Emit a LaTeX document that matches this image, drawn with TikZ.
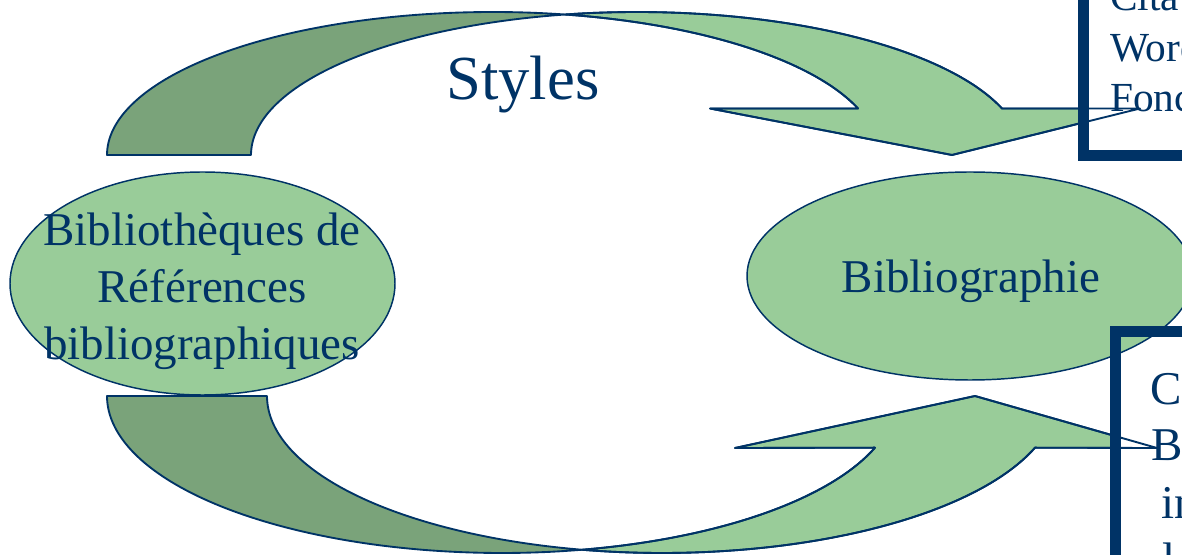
\documentclass[tikz,border=0pt]{standalone}
\usepackage{fontspec}
\setmainfont{Liberation Serif}
\usetikzlibrary{shapes.geometric}
\definecolor{navy}{RGB}{0,51,102}
\definecolor{lgreen}{RGB}{153,204,153}
\definecolor{dgreen}{RGB}{122,163,122}
\newcommand\TopDarkBand[1]{\path[#1] (107,-155)
  -- plot[domain=180:79.25,samples=90] ({493+386*cos(\x)},{-155+143*sin(\x)})
  -- plot[domain=100.75:180,samples=90] ({637+386*cos(\x)},{-155+143*sin(\x)}) -- cycle;}
\newcommand\TopLightBand[1]{\path[#1] (565,-14.5)
  -- plot[domain=100.75:18.98,samples=90] ({637+386*cos(\x)},{-155+143*sin(\x)})
  -- (1140,-108.5) -- (952,-155) -- (710,-108.5)
  -- plot[domain=18.98:79.25,samples=90] ({493+386*cos(\x)},{-155+143*sin(\x)}) -- cycle;}
\newcommand\BotDarkBand[1]{\path[#1] (107,-396)
  -- plot[domain=180:281.68,samples=90] ({502+395*cos(\x)},{-396+157*sin(\x)})
  -- plot[domain=258.32:180,samples=90] ({662+395*cos(\x)},{-396+157*sin(\x)}) -- cycle;}
\newcommand\BotLightBand[1]{\path[#1] (582,-549.7)
  -- plot[domain=258.32:340.78,samples=90] ({662+395*cos(\x)},{-396+157*sin(\x)})
  -- (1157,-448) -- (975,-396) -- (735,-448)
  -- plot[domain=340.78:281.68,samples=90] ({502+395*cos(\x)},{-396+157*sin(\x)}) -- cycle;}
\begin{document}
\begin{tikzpicture}[x=0.75pt,y=0.75pt,
  band/.style={draw=navy, line width=1.4pt, line join=round},
  oval/.style={ellipse, draw=navy, fill=lgreen, line width=1.1pt, inner sep=0pt},
  txt/.style={text=navy, inner sep=0pt},
  frame/.style={draw=navy, line width=8.25pt},
  bigfont/.style={font=\fontsize{35.25}{42.75}\selectfont},
  boxfont/.style={font=\fontsize{31}{37.5}\selectfont}]
\useasboundingbox (0,0) rectangle (1182,-555);
\clip (0,0) rectangle (1182,-555);
% curved arrows
\TopDarkBand{fill=dgreen, band}
\TopLightBand{fill=lgreen, band}
\BotDarkBand{fill=dgreen, band}
\BotLightBand{fill=lgreen, band}
% white interiors of the text boxes
\fill[white] (1083,-155.5) rectangle (1300,60);
\fill[white] (1115.5,-331.5) rectangle (1300,-650);
% arrow outlines over the boxes
\TopLightBand{band}
\BotLightBand{band}
% ellipses
\node[oval, minimum width=288.75pt, minimum height=167.25pt] (lib) at (202.5,-283.5) {};
\node[oval, minimum width=334.5pt, minimum height=156pt] (bib) at (970,-276) {};
% box frames
\draw[frame] (1083,-155.5) rectangle (1300,60);
\draw[frame] (1115.5,-331.5) rectangle (1300,-650);
% texts
\node[txt, bigfont, align=center] (libtxt) at (202,-291) {Bibliothèques de\\Références\\bibliographiques};
\node[txt, font=\fontsize{47}{56}\selectfont, anchor=base] (styles) at (523,-100) {Styles};
\node[txt, bigfont, anchor=base] (bibtxt) at (971,-293) {Bibliographie};
\node[txt, boxfont, anchor=base west] (t1) at (1110,-11) {Cita};
\node[txt, boxfont, anchor=base west] (t2) at (1110,-62) {Word};
\node[txt, boxfont, anchor=base west] (t3) at (1110,-112) {Fonc};
\node[txt, bigfont, anchor=base west] (b1) at (1150,-405) {C};
\node[txt, bigfont, anchor=base west] (b2) at (1151,-461) {B};
\node[txt, bigfont, anchor=base west] (b3) at (1161,-519) {in};
\node[txt, bigfont, anchor=base west] (b4) at (1162,-576) {l};
\end{tikzpicture}
\end{document}
